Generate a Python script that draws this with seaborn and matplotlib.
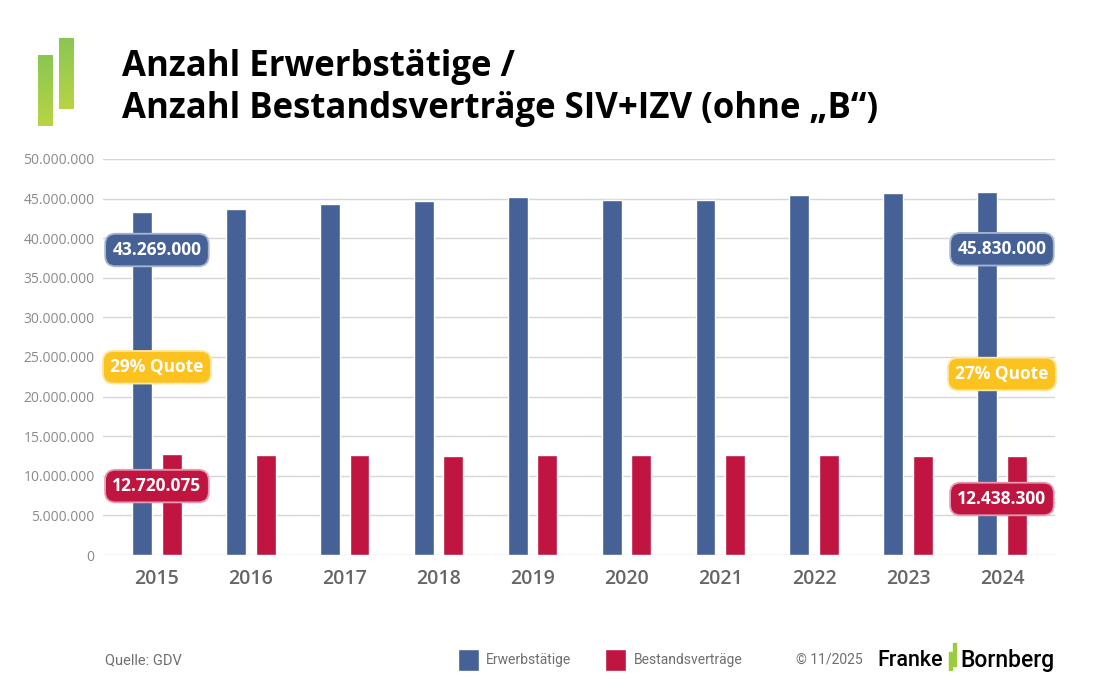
import numpy as np
import pandas as pd
import matplotlib
matplotlib.use("Agg")
import matplotlib.pyplot as plt
from matplotlib.ticker import FuncFormatter
import seaborn as sns

# =============================
# DATA
# =============================
years = ["2015", "2016", "2017", "2018", "2019", "2020", "2021", "2022", "2023", "2024"]
erwerbstaetige = [43269000, 43690000, 44360000, 44650000, 45160000,
                  44820000, 44820000, 45400000, 45660000, 45830000]
bestandsvertraege = [12720075, 12590000, 12590000, 12460000, 12630000,
                     12630000, 12630000, 12630000, 12460000, 12438300]
series_names = ["Erwerbstätige", "Bestandsverträge"]
y_ticks = [0, 5000000, 10000000, 15000000, 20000000, 25000000,
           30000000, 35000000, 40000000, 45000000, 50000000]
label_first = ["43.269.000", "29% Quote", "12.720.075"]
label_last = ["45.830.000", "27% Quote", "12.438.300"]

df = pd.DataFrame({
    "Jahr": years * 2,
    "Anzahl": erwerbstaetige + bestandsvertraege,
    "Reihe": [series_names[0]] * len(years) + [series_names[1]] * len(years),
})

BLUE = "#456196"
RED = "#c01441"
YELLOW = "#fcc21f"
GRID = "#d6d6d6"
FOOT = ["Roboto", "DejaVu Sans"]

# =============================
# STYLE
# =============================
sns.set_theme(style="white")
plt.rcParams["font.family"] = ["Open Sans", "DejaVu Sans"]

fig = plt.figure(figsize=(11, 6.88), dpi=100)
ax = fig.add_axes([0.0936, 0.1933, 0.8655, 0.5757])

sns.barplot(data=df, x="Jahr", y="Anzahl", hue="Reihe", ax=ax,
            palette=[BLUE, RED], saturation=1, width=0.63, gap=0.33,
            errorbar=None)

ax.set_ylim(0, 50000000)
ax.set_xlim(-0.575, 9.565)
ax.set_yticks(y_ticks)
ax.yaxis.set_major_formatter(FuncFormatter(lambda v, p: f"{int(v):,}".replace(",", ".")))
ax.grid(axis="y", color=GRID, lw=1)
ax.set_axisbelow(True)
for s in ax.spines.values():
    s.set_visible(False)
ax.set_xlabel("")
ax.set_ylabel("")
ax.tick_params(axis="y", length=0, pad=6, labelsize=10, labelcolor="#8a8a8a")
ax.tick_params(axis="x", length=0, pad=10, labelsize=14, labelcolor="#666666")
for t in ax.get_xticklabels():
    t.set_fontweight("semibold")

# =============================
# CALLOUT BOXES
# =============================
box_y = [[38500000, 23700000, 8700000], [38600000, 22850000, 7070000]]
box_styles = [(BLUE, "#a9b6d1"), (YELLOW, "#fde6a0"), (RED, "#e59bb0")]
for xi, labels, ys in [(0, label_first, box_y[0]), (9, label_last, box_y[1])]:
    for lab, yv, (fc, ec) in zip(labels, ys, box_styles):
        ax.text(xi, yv, lab, ha="center", va="center", color="white",
                fontsize=12.5, fontweight="bold", zorder=5,
                bbox=dict(boxstyle="round,pad=0.42,rounding_size=0.6",
                          fc=fc, ec=ec, lw=1.3))

# =============================
# TITLE + LOGO
# =============================
fig.text(0.1109, 0.8895, "Anzahl Erwerbstätige /", fontsize=25,
         fontweight="bold", color="black", va="baseline")
fig.text(0.1109, 0.8285, "Anzahl Bestandsverträge SIV+IZV (ohne „B“)", fontsize=25,
         fontweight="bold", color="black", va="baseline")

grad = np.linspace(0, 1, 100).reshape(-1, 1)
cmap = matplotlib.colors.LinearSegmentedColormap.from_list("g", ["#8bc653", "#b8d444"])
for x0, y0, y1 in [(38, 55, 126), (59, 38, 109)]:
    lax = fig.add_axes([x0 / 1100, 1 - y1 / 688, 15 / 1100, (y1 - y0) / 688])
    lax.imshow(grad, aspect="auto", cmap=cmap)
    lax.axis("off")

# =============================
# FOOTER
# =============================
fy = 1 - 660 / 688
fig.text(105 / 1100, fy, "Quelle: GDV", fontsize=10.5, color="#6f6f6f",
         family=FOOT, va="center")
sns.move_legend(ax, loc="center", bbox_to_anchor=(600 / 1100, fy),
                bbox_transform=fig.transFigure, ncol=2, frameon=False, title=None,
                fontsize=10, handlelength=1.5, handleheight=2.0, handletextpad=0.55,
                columnspacing=2.4)
for t in ax.get_legend().get_texts():
    t.set_color("#6f6f6f")
    t.set_family(FOOT)
fig.text(796 / 1100, fy, "© 11/2025", fontsize=10, color="#6f6f6f",
         family=FOOT, va="center")
fig.text(877 / 1100, fy, "Franke", fontsize=15.5, color="black",
         family=FOOT, fontweight="medium", va="center")
fig.text(1055 / 1100, fy, "Bornberg", fontsize=16.5, color="black",
         family=FOOT, fontweight="medium", va="center", ha="right")
for x0, y0, y1 in [(949, 652, 670), (953, 643, 666)]:
    fig.patches.append(matplotlib.patches.Rectangle(
        (x0 / 1100, 1 - y1 / 688), 3 / 1100, (y1 - y0) / 688,
        transform=fig.transFigure, color="#9ccb3b"))

fig.savefig("out.png", dpi=100)
